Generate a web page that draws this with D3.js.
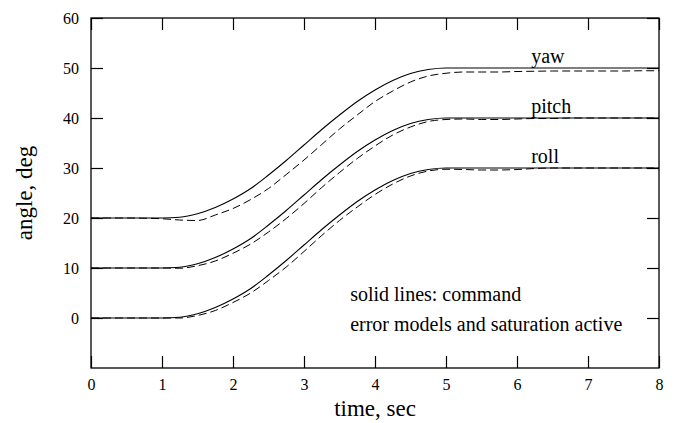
<!DOCTYPE html>
<html>
<head>
<meta charset="utf-8">
<script src="https://cdn.jsdelivr.net/npm/d3@7"></script>
<style>
  body { margin: 0; background: #fff; }
  svg { display: block; }
  svg text { font-family: "Liberation Serif", "Times New Roman", serif; fill: #000; }
</style>
</head>
<body>
<div id="chart"></div>
<script>
// time samples, sec
const time = [0, 0.25, 0.5, 0.75, 1, 1.25, 1.5, 1.75, 2, 2.25, 2.5, 2.75, 3, 3.25, 3.5, 3.75,
              4, 4.25, 4.5, 4.75, 5, 5.25, 5.5, 5.75, 6, 6.25, 6.5, 6.75, 7, 7.25, 7.5, 7.75, 8];

// commanded attitude (solid lines), deg
const rollCmd  = [0, 0, 0, 0, 0, 0.15, 0.85, 2.1, 3.8, 5.9, 8.6, 11.5, 14.6, 17.7, 20.6, 23.3,
                  25.6, 27.5, 28.9, 29.7, 30, 30, 30, 30, 30, 30, 30, 30, 30, 30, 30, 30, 30];
const pitchCmd = [10, 10, 10, 10, 10, 10.15, 10.85, 12.1, 13.8, 15.9, 18.6, 21.5, 24.6, 27.7, 30.6, 33.3,
                  35.6, 37.5, 38.9, 39.7, 40, 40, 40, 40, 40, 40, 40, 40, 40, 40, 40, 40, 40];
const yawCmd   = [20, 20, 20, 20, 20, 20.15, 20.85, 22.1, 23.8, 25.9, 28.6, 31.5, 34.6, 37.7, 40.6, 43.3,
                  45.6, 47.5, 48.9, 49.7, 50, 50, 50, 50, 50, 50, 50, 50, 50, 50, 50, 50, 50];

// simulated response with error models and saturation (dashed lines), deg
const rollAct  = [0, 0, 0, 0, 0, 0, 0.5, 1.5, 3.1, 5.0, 7.5, 10.2, 13.3, 16.5, 19.5, 22.2,
                  24.7, 26.8, 28.4, 29.4, 29.75, 29.7, 29.6, 29.6, 29.7, 29.9, 30, 30, 30, 30, 30, 30, 30];
const pitchAct = [10, 10, 10, 10, 10, 9.95, 10.45, 11.4, 12.95, 14.8, 17.2, 19.9, 22.9, 26.1, 29.1, 31.9,
                  34.4, 36.6, 38.2, 39.3, 39.7, 39.8, 39.7, 39.7, 39.8, 39.9, 39.9, 40, 40, 40, 40, 40, 40];
const yawAct   = [20, 20, 20, 19.95, 19.85, 19.6, 19.5, 20.6, 21.9, 23.7, 25.9, 28.7, 31.6, 34.7, 37.8, 40.6,
                  43.3, 45.4, 47.2, 48.4, 48.95, 49.2, 49.2, 49.2, 49.3, 49.35, 49.4, 49.4, 49.4, 49.4, 49.4, 49.45, 49.45];

const xTicks = [0, 1, 2, 3, 4, 5, 6, 7, 8];
const yTicks = [0, 10, 20, 30, 40, 50, 60];

const series = [
  { name: "yaw",   cmd: yawCmd,   act: yawAct,   end: 50 },
  { name: "pitch", cmd: pitchCmd, act: pitchAct, end: 40 },
  { name: "roll",  cmd: rollCmd,  act: rollAct,  end: 30 }
];

const width = 677, height = 423;
const margin = { left: 91, right: 18, top: 18, bottom: 55 };
const tickLen = 12;
const serif = "'Liberation Serif', 'Times New Roman', serif";

const svg = d3.select("#chart").append("svg")
  .attr("width", width).attr("height", height);

const x = d3.scaleLinear().domain([0, 8]).range([margin.left, width - margin.right]);
const y = d3.scaleLinear().domain([-10, 60]).range([height - margin.bottom, margin.top]);

// axes with inward ticks on all four sides
const gx = svg.append("g").attr("transform", `translate(0,${y(-10)})`)
  .call(d3.axisBottom(x).tickValues(xTicks).tickSizeInner(-tickLen).tickSizeOuter(0).tickPadding(11));
const gxTop = svg.append("g").attr("transform", `translate(0,${y(60)})`)
  .call(d3.axisTop(x).tickValues(xTicks).tickSizeInner(-tickLen).tickSizeOuter(0).tickFormat(""));
const gy = svg.append("g").attr("transform", `translate(${x(0)},0)`)
  .call(d3.axisLeft(y).tickValues(yTicks).tickSizeInner(-tickLen).tickSizeOuter(0).tickPadding(12));
const gyRight = svg.append("g").attr("transform", `translate(${x(8)},0)`)
  .call(d3.axisRight(y).tickValues(yTicks).tickSizeInner(-tickLen).tickSizeOuter(0).tickFormat(""));

[gx, gxTop, gy, gyRight].forEach(g => {
  g.attr("font-family", serif).attr("font-size", 16);
  g.select(".domain").remove();
  g.selectAll("line").attr("stroke", "#000").attr("stroke-width", 1.2);
  g.selectAll("text").attr("fill", "#000");
});

// frame
svg.append("rect")
  .attr("x", x(0)).attr("y", y(60))
  .attr("width", x(8) - x(0)).attr("height", y(-10) - y(60))
  .attr("fill", "none").attr("stroke", "#000").attr("stroke-width", 1.3);

const line = d3.line()
  .x((d, i) => x(time[i]))
  .y(d => y(d))
  .curve(d3.curveMonotoneX);

series.forEach(s => {
  svg.append("path").datum(s.act)
    .attr("d", line)
    .attr("fill", "none").attr("stroke", "#000").attr("stroke-width", 1)
    .attr("stroke-dasharray", "8,4");
  svg.append("path").datum(s.cmd)
    .attr("d", line)
    .attr("fill", "none").attr("stroke", "#000").attr("stroke-width", 1.1);
  svg.append("text")
    .attr("x", x(6.2)).attr("y", y(s.end) - 5)
    .attr("font-size", 20)
    .text(s.name);
});

// annotations
svg.append("text").attr("x", x(3.65)).attr("y", 301)
  .attr("font-size", 20).text("solid lines: command");
svg.append("text").attr("x", x(3.65)).attr("y", 331)
  .attr("font-size", 20).text("error models and saturation active");

// axis titles
svg.append("text")
  .attr("x", (x(0) + x(8)) / 2).attr("y", 416)
  .attr("text-anchor", "middle")
  .attr("font-size", 23)
  .text("time, sec");

svg.append("text")
  .attr("transform", `translate(32,${y(25)}) rotate(-90)`)
  .attr("text-anchor", "middle")
  .attr("font-size", 23)
  .text("angle, deg");
</script>
</body>
</html>
